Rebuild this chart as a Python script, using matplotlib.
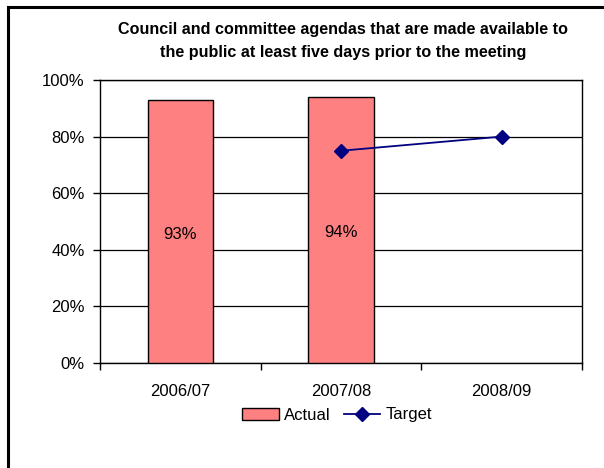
import matplotlib
matplotlib.use("Agg")
import matplotlib.pyplot as plt
from matplotlib.patches import Rectangle
from matplotlib.lines import Line2D
from matplotlib.ticker import FuncFormatter, MultipleLocator

categories = ["2006/07", "2007/08", "2008/09"]
actual = [93, 94, None]
target = [None, 75, 80]
title = "Council and committee agendas that are made available to\nthe public at least five days prior to the meeting"

plt.rcParams['font.family'] = ['Liberation Sans Narrow', 'Liberation Sans', 'DejaVu Sans']

fig = plt.figure(figsize=(6.04, 4.68), dpi=100)
# outer border (right and bottom edges lie outside the image)
fig.patches.append(Rectangle((8/604, -0.2), 1.3, 1.2 - 7/468, transform=fig.transFigure,
                             fill=False, edgecolor='black', linewidth=2.2, zorder=10))

ax = fig.add_axes([100/604, 1 - 363/468, 482/604, 283/468])
x = list(range(len(categories)))
bx = [i for i, v in zip(x, actual) if v is not None]
bv = [v for v in actual if v is not None]
ax.bar(bx, bv, width=0.405, color='#FF8080', edgecolor='black', linewidth=1.0, zorder=3, label='Actual')
for i, v in zip(bx, bv):
    ax.text(i, v / 2 - 1, f"{v}%", ha='center', va='center', fontsize=12, zorder=4)

tx = [i for i, v in zip(x, target) if v is not None]
tv = [v for v in target if v is not None]
ax.plot(tx, tv, color='#000080', marker='D', markersize=7, linewidth=1.3, zorder=5, label='Target')

ax.set_xlim(-0.5, len(categories) - 0.5)
ax.set_ylim(0, 100)
ax.yaxis.set_major_locator(MultipleLocator(20))
ax.yaxis.set_major_formatter(FuncFormatter(lambda v, p: f"{int(v)}%"))
ax.set_xticks([i - 0.5 for i in range(len(categories) + 1)])
ax.set_xticklabels([])
ax.set_xticks(x, minor=True)
ax.set_xticklabels(categories, minor=True)
ax.tick_params(axis='x', which='minor', length=0, pad=15, labelsize=12)
ax.tick_params(axis='x', which='major', length=5, width=1, direction='out')
ax.tick_params(axis='y', length=5, width=1, direction='out', labelsize=12, pad=6)
ax.grid(axis='y', color='black', linewidth=0.9, zorder=0)
for s in ax.spines.values():
    s.set_color('black')
    s.set_linewidth(1.0)

fig.text(343/604, 1 - 41/468, title, ha='center', va='center', fontsize=11.6,
         fontweight='bold', linespacing=1.6)

handles = [Rectangle((0, 0), 1, 1, facecolor='#FF8080', edgecolor='black', linewidth=1.0),
           Line2D([0], [0], color='#000080', marker='D', markersize=7, linewidth=1.3)]
fig.legend(handles, ['Actual', 'Target'], loc='center', bbox_to_anchor=(337/604, 1 - 415/468),
           ncol=2, frameon=False, fontsize=12, handlelength=2.2, handletextpad=0.3,
           columnspacing=0.8, borderpad=0)

fig.savefig("out.png", dpi=100)
